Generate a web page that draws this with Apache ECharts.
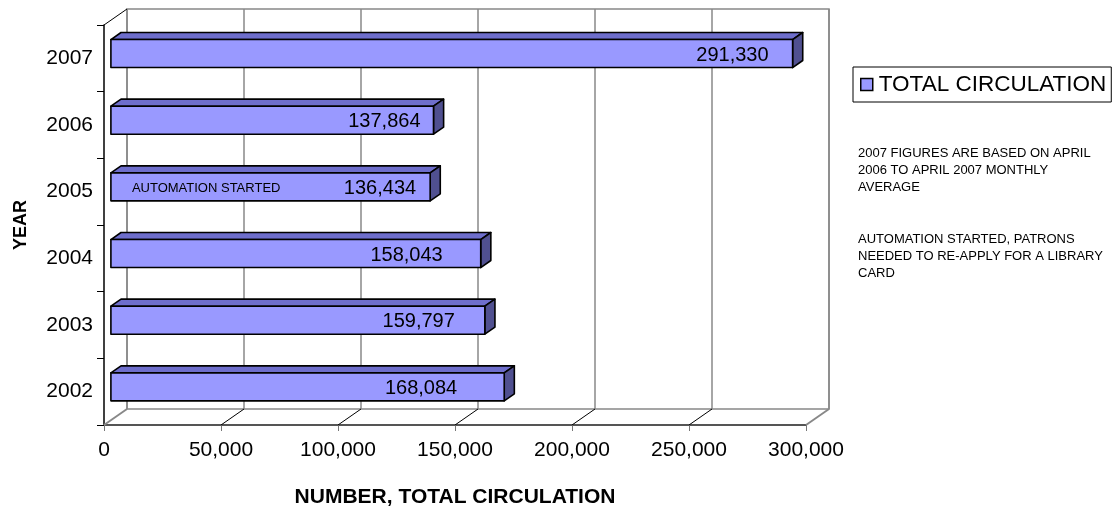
<!DOCTYPE html>
<html>
<head>
<meta charset="utf-8">
<script src="https://cdn.jsdelivr.net/npm/echarts@6/dist/echarts.min.js"></script>
<style>html,body{margin:0;padding:0;background:#fff}#chart{width:1116px;height:507px}</style>
</head>
<body>
<div id="chart"></div>
<script>
// ---------- data ----------
const years = ['2002', '2003', '2004', '2005', '2006', '2007'];
const totalCirculation = [168084, 159797, 158043, 136434, 137864, 291330];
const barNotes = ['', '', '', 'AUTOMATION STARTED', '', ''];
const xTicks = [0, 50000, 100000, 150000, 200000, 250000, 300000];
const seriesName = 'TOTAL CIRCULATION';
const xTitle = 'NUMBER, TOTAL CIRCULATION';
const yTitle = 'YEAR';
const footnotes = [
  '2007 FIGURES ARE BASED ON APRIL\n2006 TO APRIL 2007 MONTHLY\nAVERAGE',
  'AUTOMATION STARTED, PATRONS\nNEEDED TO RE-APPLY FOR A LIBRARY\nCARD'
];

// ---------- styling ----------
const FONT = '"Liberation Sans", Arial, Helvetica, sans-serif';
const DEPTH = [23, -16];          // 3D depth offset of back wall
const FRONT_F = 0.3, BACK_F = 0.74;
const BAR_RATIO = 0.42;
const FRONT_COLOR = '#9999FF', TOP_COLOR = '#6E6ECC', SIDE_COLOR = '#505090';
const LABEL_GAP = [47, 30, 38, 14, 13, 24]; // label inset from bar end, per category
const fmt = v => Number(v).toLocaleString('en-US');

function renderBar(params, api) {
  const i = api.value(1);
  const v = api.value(0);
  const base = api.coord([0, i]);
  const end = api.coord([v, i]);
  const band = api.size([0, 1])[1];
  const h = band * BAR_RATIO;
  const fx = DEPTH[0] * FRONT_F, fy = DEPTH[1] * FRONT_F;
  const ddx = DEPTH[0] * (BACK_F - FRONT_F), ddy = DEPTH[1] * (BACK_F - FRONT_F);
  const x0 = base[0] + fx, x1 = end[0] + fx;
  const yc = base[1] + fy;
  const yt = yc - h / 2, yb = yc + h / 2;
  const st = (fill) => ({ fill: fill, stroke: '#000', lineWidth: 1.6, lineJoin: 'round' });
  const children = [
    { type: 'polygon', shape: { points: [[x0, yt], [x1, yt], [x1 + ddx, yt + ddy], [x0 + ddx, yt + ddy]] }, style: st(TOP_COLOR) },
    { type: 'polygon', shape: { points: [[x1, yt], [x1 + ddx, yt + ddy], [x1 + ddx, yb + ddy], [x1, yb]] }, style: st(SIDE_COLOR) },
    { type: 'rect', shape: { x: x0, y: yt, width: x1 - x0, height: h }, style: st(FRONT_COLOR) },
    { type: 'text', style: { text: fmt(v), x: x1 - LABEL_GAP[i], y: yc + 1.5, align: 'right', verticalAlign: 'middle',
        fontSize: 20, fontFamily: FONT, fill: '#000' } }
  ];
  if (barNotes[i]) {
    children.push({ type: 'text', style: { text: barNotes[i], x: x0 + 21, y: yc + 1.5, align: 'left', verticalAlign: 'middle',
      fontSize: 13, fontFamily: FONT, fill: '#000' } });
  }
  return { type: 'group', children: children };
}

function renderFloor(params, api) {
  const v = api.value(0);
  const p = api.coord([v, 0]);
  const cs = params.coordSys;
  const yb = cs.y + cs.height;
  const edge = (v === xTicks[0] || v === xTicks[xTicks.length - 1]);
  const children = [
    { type: 'line', shape: { x1: p[0], y1: yb, x2: p[0] + DEPTH[0], y2: yb + DEPTH[1] },
      style: { stroke: edge ? '#888' : '#000', lineWidth: edge ? 2 : 1 } }
  ];
  if (v === xTicks[0]) {
    children.push({ type: 'line', shape: { x1: p[0], y1: cs.y, x2: p[0] + DEPTH[0], y2: cs.y + DEPTH[1] },
      style: { stroke: '#000', lineWidth: 1 } });
  }
  return { type: 'group', children: children };
}

const chart = echarts.init(document.getElementById('chart'), null, { renderer: 'canvas' });
const xMin = xTicks[0], xMax = xTicks[xTicks.length - 1], xStep = xTicks[1] - xTicks[0];

const footStyle = { fontSize: 13, lineHeight: 17, fontWeight: 'normal', fontFamily: FONT, color: '#000' };

chart.setOption({
  animation: false,
  backgroundColor: '#fff',
  textStyle: { fontFamily: FONT },
  title: [
    { text: footnotes[0], left: 858, top: 145, padding: 0, textStyle: footStyle },
    { text: footnotes[1], left: 858, top: 231, padding: 0, textStyle: footStyle }
  ],
  legend: {
    data: [seriesName],
    left: 853, top: 67,
    padding: [6, 5, 6, 7],
    borderColor: '#000', borderWidth: 1,
    icon: 'rect', itemWidth: 12, itemHeight: 12, itemGap: 4,
    itemStyle: { borderColor: '#000', borderWidth: 1.5 },
    textStyle: { fontSize: 22.5, fontFamily: FONT, color: '#000', padding: [0, 0, 0, 1] }
  },
  grid: [
    { left: 104, top: 25, width: 702, height: 400, containLabel: false, outerBoundsMode: 'none' },
    { left: 104 + DEPTH[0], top: 25 + DEPTH[1], width: 702, height: 400, containLabel: false, outerBoundsMode: 'none',
      show: true, borderColor: '#888', borderWidth: 1.5, backgroundColor: 'transparent' }
  ],
  xAxis: [
    { type: 'value', gridIndex: 0, min: xMin, max: xMax, interval: xStep,
      name: xTitle, nameLocation: 'middle', nameGap: 62,
      nameTextStyle: { fontSize: 21, fontWeight: 'bold', fontFamily: FONT, color: '#000' },
      axisLine: { show: true, lineStyle: { color: '#555', width: 2 } },
      axisTick: { show: true, length: 6, lineStyle: { color: '#777', width: 1 } },
      axisLabel: { fontSize: 21, margin: 15, color: '#000', fontFamily: FONT, formatter: v => fmt(v) },
      splitLine: { show: false } },
    { type: 'value', gridIndex: 1, min: xMin, max: xMax, interval: xStep,
      axisLine: { show: false }, axisTick: { show: false }, axisLabel: { show: false },
      splitLine: { show: true, lineStyle: { color: '#888', width: 1.5 } } }
  ],
  yAxis: [
    { type: 'category', gridIndex: 0, data: years,
      name: yTitle, nameLocation: 'middle', nameGap: 74, nameRotate: 90,
      nameTextStyle: { fontSize: 18, fontWeight: 'bold', fontFamily: FONT, color: '#000' },
      axisLine: { show: true, lineStyle: { color: '#000', width: 1.5 } },
      axisTick: { show: true, length: 7, lineStyle: { color: '#000', width: 1 } },
      axisLabel: { fontSize: 21, margin: 11, color: '#000', fontFamily: FONT },
      splitLine: { show: false } },
    { type: 'category', gridIndex: 1, data: years,
      axisLine: { show: false }, axisTick: { show: false }, axisLabel: { show: false }, splitLine: { show: false } }
  ],
  series: [
    { type: 'custom', name: 'floor', xAxisIndex: 0, yAxisIndex: 0, silent: true, z: 1,
      renderItem: renderFloor, encode: { x: 0, y: 1 },
      data: xTicks.map(v => [v, 0]) },
    { type: 'custom', name: seriesName, xAxisIndex: 0, yAxisIndex: 0, z: 5,
      itemStyle: { color: FRONT_COLOR },
      renderItem: renderBar, encode: { x: 0, y: 1 },
      data: totalCirculation.map((v, i) => [v, i]) }
  ]
});
</script>
</body>
</html>
